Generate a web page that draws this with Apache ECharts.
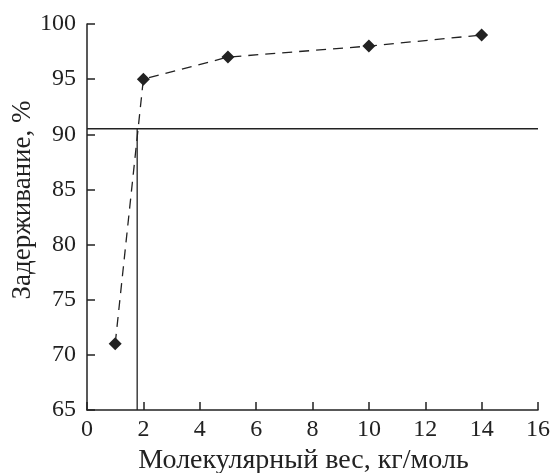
<!DOCTYPE html>
<html>
<head>
<meta charset="UTF-8">
<title>Задерживание</title>
<script src="https://cdn.jsdelivr.net/npm/echarts@6/dist/echarts.min.js"></script>
<style>
  html, body { margin: 0; padding: 0; background: #fff; }
  #main { width: 552px; height: 473px; }
</style>
</head>
<body>
<div id="main"></div>
<script type="text/javascript">
// данные с картинки
var molWeight = [1, 2, 5, 10, 14];
var retention = [71, 95, 97, 98, 99];
var hLine = [[0, 90.5], [16, 90.5]];
var vLine = [[1.78, 65], [1.78, 90.5]];

var font = 'Liberation Serif, Times New Roman, serif';
var ink = '#222';

var myChart = echarts.init(document.getElementById('main'));

var option = {
    animation: false,
    grid: { left: 87, top: 24, right: 14, bottom: 63, containLabel: false, outerBoundsMode: 'none' },
    xAxis: {
        type: 'value',
        min: 0, max: 16, interval: 2,
        name: 'Молекулярный вес, кг/моль',
        nameLocation: 'middle',
        nameGap: 31,
        nameTextStyle: { fontFamily: font, fontSize: 28, color: ink, padding: [0, 18, 0, 0] },
        axisLine: { lineStyle: { color: ink, width: 1.5 } },
        axisTick: { inside: true, length: 8, lineStyle: { color: ink, width: 1.5 } },
        axisLabel: { fontFamily: font, fontSize: 24, color: ink, margin: 8 },
        splitLine: { show: false }
    },
    yAxis: {
        type: 'value',
        min: 65, max: 100, interval: 5,
        name: 'Задерживание, %',
        nameLocation: 'middle',
        nameGap: 51,
        nameMoveOverlap: false,
        nameTextStyle: { fontFamily: font, fontSize: 27, color: ink, padding: [0, 0, 0, 34] },
        axisLine: { show: true, lineStyle: { color: ink, width: 1.5 } },
        axisTick: { show: true, inside: true, length: 8, lineStyle: { color: ink, width: 1.5 } },
        axisLabel: { fontFamily: font, fontSize: 24, color: ink, margin: 11 },
        splitLine: { show: false }
    },
    series: [
        {
            type: 'line',
            data: molWeight.map(function (x, i) { return [x, retention[i]]; }),
            symbol: 'diamond',
            symbolSize: 13,
            itemStyle: { color: ink },
            lineStyle: { color: ink, width: 1.3, type: [10, 7] }
        },
        {
            type: 'line',
            data: hLine,
            symbol: 'none',
            lineStyle: { color: ink, width: 1.3 }
        },
        {
            type: 'line',
            data: vLine,
            symbol: 'none',
            lineStyle: { color: ink, width: 1.3 }
        }
    ]
};

myChart.setOption(option);
</script>
</body>
</html>
